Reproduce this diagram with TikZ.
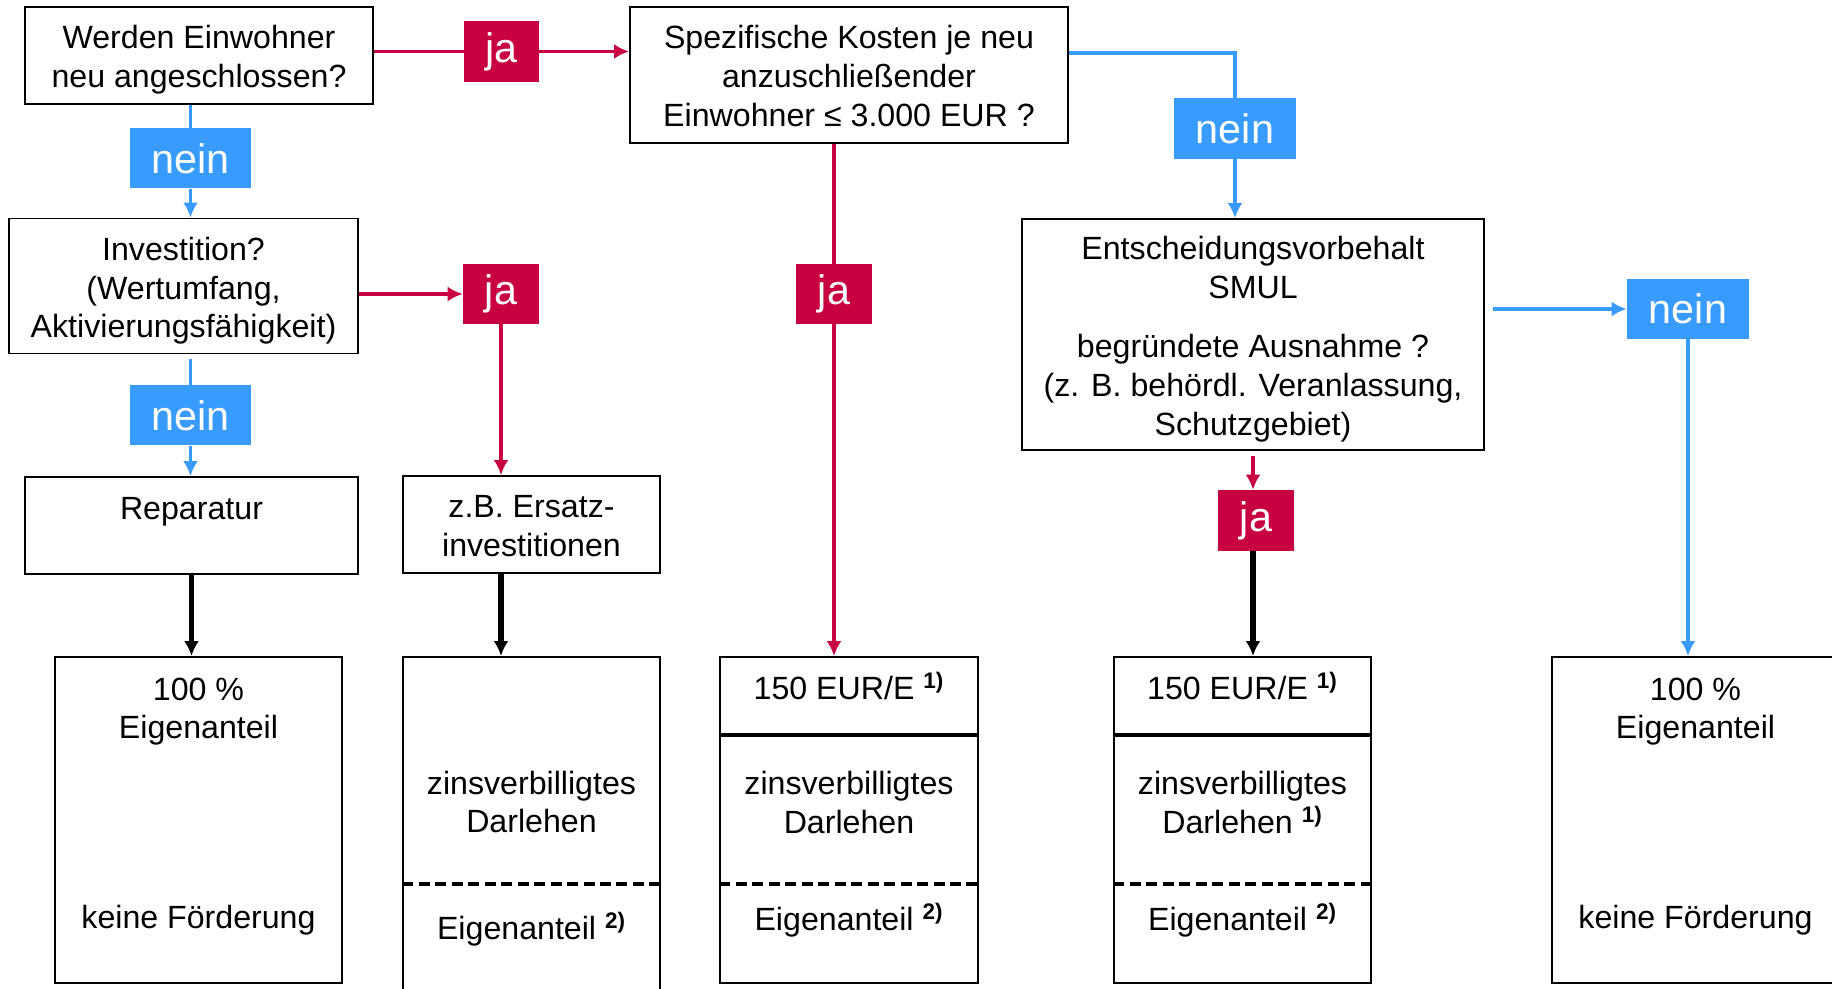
\documentclass[tikz,border=0pt]{standalone}
\usepackage{fontspec}
\setmainfont{Liberation Sans}
\usepackage{tikz}
\usetikzlibrary{positioning, arrows.meta}
\definecolor{jared}{RGB}{200,0,65}
\definecolor{neinblue}{RGB}{55,155,255}
\tikzstyle{arrow} = [-{Latex[length=0.3cm, width=0.3cm]}]
\tikzstyle{box} = [draw, line width=1.1pt, inner sep=0pt]
\tikzstyle{txt} = [inner sep=0pt, align=center]
\tikzstyle{ja} = [fill=jared, text=white, inner sep=0pt, font=\fontsize{23.5}{28}\selectfont]
\tikzstyle{nein} = [fill=neinblue, text=white, inner sep=0pt, font=\fontsize{23.5}{28}\selectfont]
\tikzstyle{redline} = [draw=jared, line width=2.2pt]
\tikzstyle{blueline} = [draw=neinblue, line width=2.2pt]
\tikzstyle{blackline} = [draw=black, line width=3.2pt]
\tikzstyle{sepline} = [draw=black, line width=1.8pt]
\tikzstyle{dashline} = [sepline, dash pattern=on 0.22cm off 0.11cm]
\tikzset{wh/.style 2 args={minimum width=#1*0.02cm, minimum height=#2*0.02cm}}
\newcommand{\fn}[1]{\textsuperscript{\textbf{#1)}}}

\begin{document}
\begin{tikzpicture}[x=0.02cm, y=-0.02cm, every node/.style={font=\fontsize{18.3}{22}\selectfont}]
		\clip (0,0) rectangle (1832,989);

		\node (q1) [box, wh={348}{97}] at (199,55.5) {};
		\node (q2) [box, wh={438}{136}] at (849,75) {};
		\node (inv) [box, wh={349}{135}] at (183.5,286) {};
		\node (ent) [box, wh={462}{231}] at (1253,334.5) {};
		\node (rep) [box, wh={333}{97}] at (191.5,525.5) {};
		\node (zb) [box, wh={257}{97}] at (531.5,524.5) {};

		\node (q1txt) [txt] at (199,60) {Werden Einwohner\\neu angeschlossen?};
		\node (q2txt) [txt] at (849,76) {Spezifische Kosten je neu\\anzuschließender\\Einwohner ≤ 3.000 EUR ?};
		\node (invtxt) [txt] at (183.5,291) {Investition?\\(Wertumfang,\\Aktivierungsfähigkeit)};
		\node (enttxt) [txt] at (1253,339) {Entscheidungsvorbehalt\\SMUL\\[12pt]begründete Ausnahme ?\\(z. B. behördl. Veranlassung,\\Schutzgebiet)};
		\node (reptxt) [txt] at (191.5,511.5) {Reparatur};
		\node (zbtxt) [txt] at (531.5,526) {z.B. Ersatz-\\investitionen};

		\node (ja1) [ja, wh={75}{61}] at (501.5,51.5) {ja};
		\node (ja2) [ja, wh={76}{60}] at (501,294) {ja};
		\node (ja3) [ja, wh={76}{60}] at (834,294) {ja};
		\node (ja4) [ja, wh={76}{61}] at (1256,520.5) {ja};
		\node (nein1) [nein, wh={121}{60}] at (190.5,158.5) {nein};
		\node (nein2) [nein, wh={122}{61}] at (1235,128.5) {nein};
		\node (nein3) [nein, wh={121}{60}] at (190.5,415.5) {nein};
		\node (nein4) [nein, wh={122}{60}] at (1688,309) {nein};

		\node (boxA) [box, wh={287}{326}] at (198.5,820) {};
		\node (boxB) [box, wh={257}{345}] at (531.5,829.5) {};
		\node (boxC) [box, wh={258}{326}] at (849,820) {};
		\node (boxD) [box, wh={257}{326}] at (1242.5,820) {};
		\node (boxE) [box, wh={287}{326}] at (1695.5,820) {};

		\node (a1) [txt] at (198.5,711.5) {100 \%\\Eigenanteil};
		\node (a2) [txt] at (198.5,920) {keine Förderung};
		\node (b1) [txt] at (531.5,802) {zinsverbilligtes\\Darlehen};
		\node (b2) [txt] at (531.5,929.5) {Eigenanteil \fn{2}};
		\node (c0) [txt] at (849,686) {150 EUR/E \fn{1}};
		\node (c1) [txt] at (849,802.5) {zinsverbilligtes\\Darlehen};
		\node (c2) [txt] at (849,920) {Eigenanteil \fn{2}};
		\node (d0) [txt] at (1242.5,686) {150 EUR/E \fn{1}};
		\node (d1) [txt] at (1242.5,802.5) {zinsverbilligtes\\Darlehen \fn{1}};
		\node (d2) [txt] at (1242.5,920) {Eigenanteil \fn{2}};
		\node (e1) [txt] at (1695.5,711.5) {100 \%\\Eigenanteil};
		\node (e2) [txt] at (1695.5,920) {keine Förderung};

		\draw [sepline] (boxC.west |- 0,735) -- (boxC.east |- 0,735);
		\draw [sepline] (boxD.west |- 0,735) -- (boxD.east |- 0,735);
		\draw [dashline] (boxB.west |- 0,884) -- (boxB.east |- 0,884);
		\draw [dashline] (boxC.west |- 0,884) -- (boxC.east |- 0,884);
		\draw [dashline] (boxD.west |- 0,884) -- (boxD.east |- 0,884);

		\draw [redline] (q1.east |- ja1) -- (ja1.west);
		\draw [arrow, redline] (ja1.east) -- (q2.west |- ja1);
		\draw [blueline] (q1.south -| nein1) -- (nein1.north);
		\draw [arrow, blueline] (nein1.south) -- (inv.north -| nein1);
		\draw [arrow, redline] (inv.east |- ja2) -- (ja2.west);
		\draw [arrow, redline] (ja2.south) -- (zb.north -| ja2);
		\draw [blueline] ([yshift=-0.1cm]inv.south -| nein3) -- (nein3.north);
		\draw [arrow, blueline] (nein3.south) -- (rep.north -| nein3);
		\draw [arrow, blackline] (rep.south) -- (rep.south |- boxA.north);
		\draw [arrow, blackline] (zb.south -| ja2) -- (boxB.north -| ja2);
		\draw [redline] (q2.south -| ja3) -- (ja3.north);
		\draw [arrow, redline] (ja3.south) -- (boxC.north -| ja3);
		\draw [blueline] ([yshift=0.44cm]q2.east) -| (nein2.north);
		\draw [arrow, blueline] (nein2.south) -- (ent.north -| nein2);
		\draw [arrow, blueline] ([xshift=0.16cm]ent.east |- nein4) -- (nein4.west);
		\draw [arrow, blueline] (nein4.south) -- (boxE.north -| nein4);
		\draw [arrow, redline] ([yshift=-0.1cm]ent.south) -- (ja4.north -| ent.south);
		\draw [arrow, blackline] (ja4.south -| ent.south) -- (boxD.north -| ent.south);
	\end{tikzpicture}
\end{document}
